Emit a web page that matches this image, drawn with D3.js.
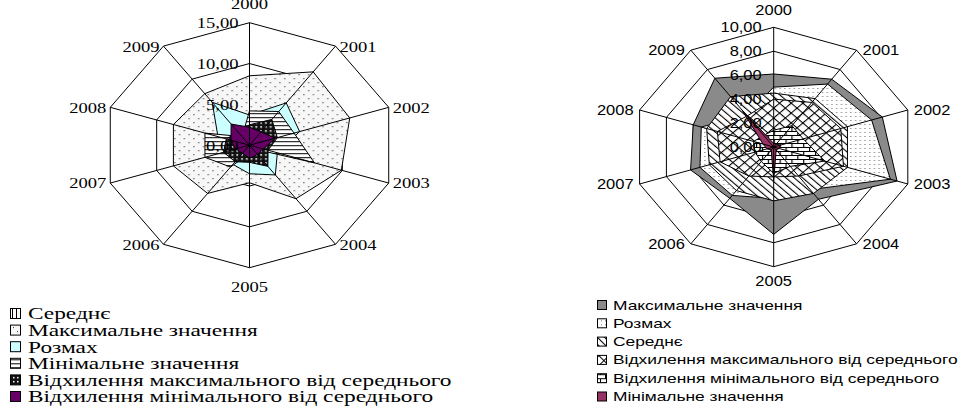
<!DOCTYPE html>
<html>
<head>
<meta charset="utf-8">
<script src="https://cdn.jsdelivr.net/npm/d3@7"></script>
<style>
  body { margin: 0; background: #fff; }
  .serif text { font-family: "Liberation Serif", "Times New Roman", serif; fill: #000; }
  .sans text { font-family: "Liberation Sans", Arial, sans-serif; fill: #000; }
</style>
</head>
<body>
<svg id="chart" width="964" height="414"></svg>
<script>

// categories
let years = ["2000", "2001", "2002", "2003", "2004", "2005", "2006", "2007", "2008", "2009"];

// left chart (axis 0..15)
let leftTicks = [0, 5, 10, 15];
let leftAvg    = [6.4, 7.2, 7.6, 8.0, 4.6, 2.6, 4.6, 6.3, 6.4, 4.6];
let leftMax    = [8.5, 11.1, 10.8, 9.9, 8.1, 4.6, 7.3, 8.2, 8.2, 7.8];
let leftRange  = [3.7, 6.4, 5.4, 3.0, 4.5, 3.5, 2.9, 3.4, 3.4, 6.5];
let leftMin    = [4.2, 5.1, 4.8, 7.0, 0.5, 1.0, 3.3, 4.8, 4.8, 1.3];
let leftDevMax = [2.5, 3.9, 3.0, 2.0, 3.2, 2.1, 2.5, 2.8, 2.5, 2.0];
let leftDevMin = [2.2, 2.0, 2.8, 1.5, 1.4, 1.6, 1.2, 1.5, 2.0, 3.2];
let leftNames = ["Середнє", "Максимальне значення", "Розмах", "Мінімальне значення",
	"Відхилення максимального від середнього", "Відхилення мінімального від середнього"];

// right chart (axis 0..10)
let rightTicks = [0, 2, 4, 6, 8, 10];
let rightMax    = [6.1, 7.0, 8.1, 9.2, 5.4, 7.3, 5.3, 6.2, 6.0, 7.1];
let rightRange  = [5.0, 6.5, 7.3, 8.7, 4.4, 4.3, 5.0, 5.5, 5.4, 3.3];
let rightAvg    = [4.5, 5.0, 5.5, 5.5, 4.8, 4.5, 4.5, 4.8, 5.0, 5.2];
let rightDevMax = [4.0, 4.6, 5.0, 5.2, 3.0, 2.5, 3.0, 4.0, 4.2, 3.2];
let rightDevMin = [1.4, 2.2, 2.2, 3.8, 2.0, 2.2, 1.5, 1.4, 1.5, 1.2];
let rightMin    = [0.3, 0.3, 0.5, 0.4, 0.3, 2.8, 0.3, 0.5, 0.8, 3.8];
let rightNames = ["Максимальне значення", "Розмах", "Середнє",
	"Відхилення максимального від середнього", "Відхилення мінімального від середнього", "Мінімальне значення"];

let fmt = v => d3.format(".2f")(v).replace(".", ",");

let svg = d3.select("#chart");
let defs = svg.append("defs");

// fill patterns (Excel-like)
function pattern(id, w, h, draw) {
	let p = defs.append("pattern").attr("id", id)
		.attr("patternUnits", "userSpaceOnUse")
		.attr("width", w).attr("height", h);
	draw(p);
	return p;
}
function rect(p, x, y, w, h, c) {
	p.append("rect").attr("x", x).attr("y", y).attr("width", w).attr("height", h).attr("fill", c);
}

pattern("vlines", 4, 4, p => { rect(p, 0, 0, 4, 4, "#fff"); rect(p, 0, 0, 1, 4, "#000"); });
pattern("sparseDots", 8, 8, p => { rect(p, 0, 0, 8, 8, "#f7f7f7"); rect(p, 1, 1, 1, 1, "#333"); rect(p, 5, 5, 1, 1, "#333"); });
pattern("hlines", 4, 4, p => { rect(p, 0, 0, 4, 4, "#fff"); rect(p, 0, 0, 4, 1, "#000"); });
pattern("blackDots", 4, 4, p => { rect(p, 0, 0, 4, 4, "#111"); rect(p, 1, 1, 1.5, 1.5, "#fff"); });
pattern("fineDots", 4, 4, p => { rect(p, 0, 0, 4, 4, "#fff"); rect(p, 1, 1, 1, 1, "#777"); });
pattern("diag", 5, 5, p => {
	p.attr("patternTransform", "rotate(-45)");
	rect(p, 0, 0, 5, 5, "#fff"); rect(p, 0, 0, 1, 5, "#000");
});
pattern("cross", 7, 7, p => {
	p.attr("patternTransform", "rotate(45)");
	rect(p, 0, 0, 7, 7, "#fff"); rect(p, 0, 0, 1, 7, "#000"); rect(p, 0, 0, 7, 1, "#000");
});
pattern("brick", 10, 8, p => {
	rect(p, 0, 0, 10, 8, "#fff");
	rect(p, 0, 0, 10, 1, "#000"); rect(p, 0, 4, 10, 1, "#000");
	rect(p, 0, 0, 1, 4, "#000"); rect(p, 5, 4, 1, 4, "#000");
});

let leftSeries = [
	{values: leftAvg, fill: "url(#vlines)"},
	{values: leftMax, fill: "url(#sparseDots)"},
	{values: leftRange, fill: "#ccffff"},
	{values: leftMin, fill: "url(#hlines)"},
	{values: leftDevMax, fill: "url(#blackDots)"},
	{values: leftDevMin, fill: "#660066"}
];
let rightSeries = [
	{values: rightMax, fill: "#8a8a8a"},
	{values: rightRange, fill: "url(#fineDots)"},
	{values: rightAvg, fill: "url(#diag)"},
	{values: rightDevMax, fill: "url(#cross)"},
	{values: rightDevMin, fill: "url(#brick)"},
	{values: rightMin, fill: "#993366"}
];

function drawRadar(opt) {
	let g = svg.append("g")
		.attr("class", opt.cls)
		.attr("transform", "translate(" + opt.cx + "," + opt.cy + ") scale(" + opt.sx + ",1)");

	let maxTick = d3.max(opt.ticks);
	let r = d3.scaleLinear().domain([0, maxTick]).range([0, opt.radius]);
	let angle = d3.scaleBand().domain(years).range([0, 2 * Math.PI]);

	let radial = d3.lineRadial()
		.angle(d => angle(d.year))
		.radius(d => r(d.value))
		.curve(d3.curveLinearClosed);
	let rows = vals => years.map((y, i) => ({year: y, value: vals[i]}));

	// rings (behind the series)
	g.selectAll(".ring")
		.data(opt.ticks.filter(t => t > 0))
		.enter().append("path")
		.attr("class", "ring")
		.attr("d", t => radial(rows(years.map(() => t))))
		.attr("fill", "none").attr("stroke", "#000")
		.attr("vector-effect", "non-scaling-stroke");

	// filled series, first one at the back
	g.selectAll(".series")
		.data(opt.series)
		.enter().append("path")
		.attr("class", "series")
		.attr("d", d => radial(rows(d.values)))
		.attr("fill", d => d.fill)
		.attr("stroke", "#000").attr("stroke-width", 1)
		.attr("vector-effect", "non-scaling-stroke");

	// spokes on top
	g.selectAll(".spoke")
		.data(years)
		.enter().append("line")
		.attr("class", "spoke")
		.attr("x1", 0).attr("y1", 0)
		.attr("x2", y => Math.sin(angle(y)) * r(maxTick))
		.attr("y2", y => -Math.cos(angle(y)) * r(maxTick))
		.attr("stroke", "#000")
		.attr("vector-effect", "non-scaling-stroke");

	// value axis labels
	g.selectAll(".tick")
		.data(opt.ticks)
		.enter().append("text")
		.attr("class", "tick")
		.attr("x", -opt.tickGap / opt.sx)
		.attr("y", t => -r(t))
		.attr("dy", "0.35em")
		.attr("text-anchor", "end")
		.style("font-size", opt.font + "px")
		.text(fmt);

	// category labels
	g.selectAll(".cat")
		.data(years)
		.enter().append("text")
		.attr("class", "cat")
		.each(function(y) {
			let a = angle(y), s = Math.sin(a), c = Math.cos(a);
			let x = s * r(maxTick), yy = -c * r(maxTick);
			let t = d3.select(this);
			if (Math.abs(s) < 0.1) {
				t.attr("text-anchor", "middle").attr("x", 0)
					.attr("y", c > 0 ? yy - opt.topGap : yy + opt.bottomGap)
					.attr("dy", c > 0 ? "0" : "0.7em");
			} else {
				t.attr("text-anchor", s > 0 ? "start" : "end")
					.attr("x", x + (s > 0 ? 1 : -1) * opt.sideGap / opt.sx)
					.attr("y", yy)
					.attr("dy", "0.35em");
			}
		})
		.style("font-size", opt.font + "px")
		.text(y => y);
}

drawRadar({cls: "serif", cx: 249.5, cy: 145.2, radius: 122.5, sx: 1.195, ticks: leftTicks,
	series: leftSeries, font: 15.5, tickGap: 11, topGap: 14, bottomGap: 13, sideGap: 4});
drawRadar({cls: "sans", cx: 773.7, cy: 147, radius: 119.7, sx: 1.178, ticks: rightTicks,
	series: rightSeries, font: 14, tickGap: 12, topGap: 12, bottomGap: 10, sideGap: 6});

// legends
function drawLegend(opt) {
	let g = svg.append("g").attr("class", opt.cls);
	let items = g.selectAll(".item")
		.data(opt.names)
		.enter().append("g")
		.attr("class", "item")
		.attr("transform", (d, i) => "translate(0," + (opt.y0 + i * opt.step) + ")");

	items.append("rect")
		.attr("x", opt.boxX).attr("y", -opt.box / 2)
		.attr("width", opt.box).attr("height", opt.box)
		.attr("fill", (d, i) => opt.series[i].fill)
		.attr("stroke", "#000");

	let labels = items.append("text")
		.attr("x", 0).attr("y", 0).attr("dy", "0.35em")
		.style("font-size", opt.font + "px")
		.text(d => d);

	// stretch text horizontally like the original, fitted on one entry's width
	let w = labels.nodes()[opt.fitIndex].getComputedTextLength();
	let k = opt.fitWidth / w;
	labels.attr("transform", "translate(" + opt.textX + ",0) scale(" + k + ",1)");
}

drawLegend({cls: "serif", names: leftNames, series: leftSeries, y0: 313.5, step: 16.6,
	boxX: 10.5, box: 10, textX: 28, font: 17, fitIndex: 1, fitWidth: 230});
drawLegend({cls: "sans", names: rightNames, series: rightSeries, y0: 305, step: 18.3,
	boxX: 597.5, box: 9, textX: 613, font: 13, fitIndex: 3, fitWidth: 345});

</script>
</body>
</html>
